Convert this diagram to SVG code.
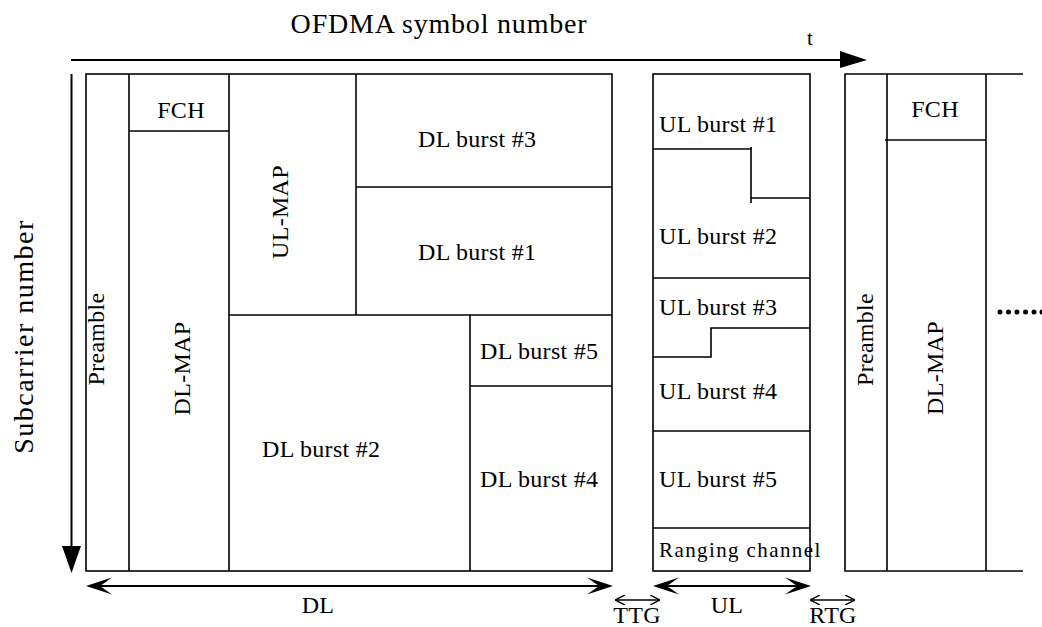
<svg xmlns="http://www.w3.org/2000/svg" width="1042" height="627" viewBox="0 0 1042 627">
<style>
.ln{fill:none;stroke:#000;stroke-width:1.6}
.thk{fill:none;stroke:#000;stroke-width:2}
.tx{font-family:"Liberation Serif","Times New Roman",serif;font-size:24px;fill:#000;letter-spacing:0.3px}
.big{font-family:"Liberation Serif","Times New Roman",serif;font-size:28px;fill:#000}
.sm{font-family:"Liberation Serif","Times New Roman",serif;font-size:21px;fill:#000;letter-spacing:1.4px}
.hd{fill:#000;stroke:none}
</style>
<defs>
<marker id="open" viewBox="0 0 10 10" refX="10" refY="5" markerWidth="10" markerHeight="10" markerUnits="userSpaceOnUse" orient="auto-start-reverse">
<path d="M0,0 L10,5 L0,10" fill="none" stroke="#000" stroke-width="1.4"/>
</marker>
</defs>
<g id="axes">
<text class="big" x="439" y="33" text-anchor="middle" letter-spacing="0.8">OFDMA symbol number</text>
<line class="thk" x1="71" y1="60" x2="842" y2="60"/>
<path class="hd" d="M840,51 L867,60 L840,68 Z"/>
<text x="810" y="45" text-anchor="middle" font-family="Liberation Serif, Times New Roman, serif" font-size="21">t</text>
<text class="big" transform="translate(33,336.5) rotate(-90)" text-anchor="middle" letter-spacing="1.5">Subcarrier number</text>
<line class="thk" x1="71.5" y1="74" x2="71.5" y2="550"/>
<path class="hd" d="M62,546 L81,546 L71.5,573 Z"/>
</g>
<g id="dl-frame">
<rect class="ln" x="86" y="74" width="526" height="497"/>
</g>
<g id="preamble">
<line class="ln" x1="129" y1="74" x2="129" y2="571"/>
<text class="tx" transform="translate(104,339) rotate(-90)" text-anchor="middle">Preamble</text>
</g>
<g id="fch">
<line class="ln" x1="129" y1="131" x2="229" y2="131"/>
<text class="tx" x="181" y="118" text-anchor="middle">FCH</text>
</g>
<g id="dl-map">
<line class="ln" x1="229" y1="74" x2="229" y2="571"/>
<text class="tx" transform="translate(190,368.5) rotate(-90)" text-anchor="middle">DL-MAP</text>
</g>
<g id="ul-map">
<line class="ln" x1="356" y1="74" x2="356" y2="315"/>
<text class="tx" transform="translate(288,212) rotate(-90)" text-anchor="middle">UL-MAP</text>
</g>
<g id="dl-burst-3">
<line class="ln" x1="356" y1="187" x2="612" y2="187"/>
<text class="tx" x="418" y="147">DL burst #3</text>
</g>
<g id="dl-burst-1">
<line class="ln" x1="229" y1="315" x2="612" y2="315"/>
<text class="tx" x="418" y="260">DL burst #1</text>
</g>
<g id="dl-burst-2">
<line class="ln" x1="470" y1="315" x2="470" y2="571"/>
<text class="tx" x="262" y="457">DL burst #2</text>
</g>
<g id="dl-burst-5">
<line class="ln" x1="470" y1="386" x2="612" y2="386"/>
<text class="tx" x="480" y="359">DL burst #5</text>
</g>
<g id="dl-burst-4">
<text class="tx" x="480" y="487">DL burst #4</text>
</g>
<g id="ul-frame">
<rect class="ln" x="653" y="74" width="157" height="497"/>
</g>
<g id="ul-burst-1">
<polyline class="ln" points="653,149 752,149"/>
<line class="ln" x1="751" y1="147" x2="751" y2="203"/>
<line class="ln" x1="751" y1="198" x2="810" y2="198"/>
<text class="tx" x="659" y="132">UL burst #1</text>
</g>
<g id="ul-burst-2">
<line class="ln" x1="653" y1="278" x2="810" y2="278"/>
<text class="tx" x="659" y="244">UL burst #2</text>
</g>
<g id="ul-burst-3">
<polyline class="ln" points="653,357 711,357 711,328 810,328"/>
<text class="tx" x="659" y="315">UL burst #3</text>
</g>
<g id="ul-burst-4">
<line class="ln" x1="653" y1="431" x2="810" y2="431"/>
<text class="tx" x="659" y="399">UL burst #4</text>
</g>
<g id="ul-burst-5">
<line class="ln" x1="653" y1="528" x2="810" y2="528"/>
<text class="tx" x="659" y="487">UL burst #5</text>
</g>
<g id="ranging">
<text class="sm" x="659" y="557">Ranging channel</text>
</g>
<g id="next-frame">
<polyline class="ln" points="1023,74 845,74 845,571 1023,571"/>
<line class="ln" x1="887" y1="74" x2="887" y2="571"/>
<line class="ln" x1="986" y1="74" x2="986" y2="571"/>
<line class="ln" x1="885" y1="140" x2="986" y2="140"/>
<text class="tx" transform="translate(873,339.5) rotate(-90)" text-anchor="middle">Preamble</text>
<text class="tx" x="935" y="117" text-anchor="middle">FCH</text>
<text class="tx" transform="translate(943,368) rotate(-90)" text-anchor="middle">DL-MAP</text>
<g fill="#000">
<circle cx="1000" cy="312" r="2.5"/>
<circle cx="1008.5" cy="312" r="2.5"/>
<circle cx="1017" cy="312" r="2.5"/>
<circle cx="1025.5" cy="312" r="2.5"/>
<circle cx="1034" cy="312" r="2.5"/>
<circle cx="1042" cy="312" r="2.5"/>
</g>
</g>
<g id="connectors">
<line class="thk" x1="95" y1="586" x2="603" y2="586"/>
<path class="hd" d="M86,586 L112,577.5 L100,586 L112,594.5 Z"/>
<path class="hd" d="M613,586 L587,577.5 L599,586 L587,594.5 Z"/>
<line class="thk" x1="662" y1="586" x2="802" y2="586"/>
<path class="hd" d="M653,586 L679,577.5 L667,586 L679,594.5 Z"/>
<path class="hd" d="M811,586 L785,577.5 L797,586 L785,594.5 Z"/>
<line class="ln" x1="615" y1="600" x2="660" y2="600" marker-start="url(#open)" marker-end="url(#open)"/>
<line class="ln" x1="810" y1="600" x2="855" y2="600" marker-start="url(#open)" marker-end="url(#open)"/>
</g>
<g id="labels">
<text class="tx" x="318" y="613" text-anchor="middle">DL</text>
<text class="tx" x="727" y="613" text-anchor="middle">UL</text>
<text class="tx" x="637" y="623" text-anchor="middle" font-size="23">TTG</text>
<text class="tx" x="833" y="623" text-anchor="middle" font-size="23">RTG</text>
</g>
</svg>
